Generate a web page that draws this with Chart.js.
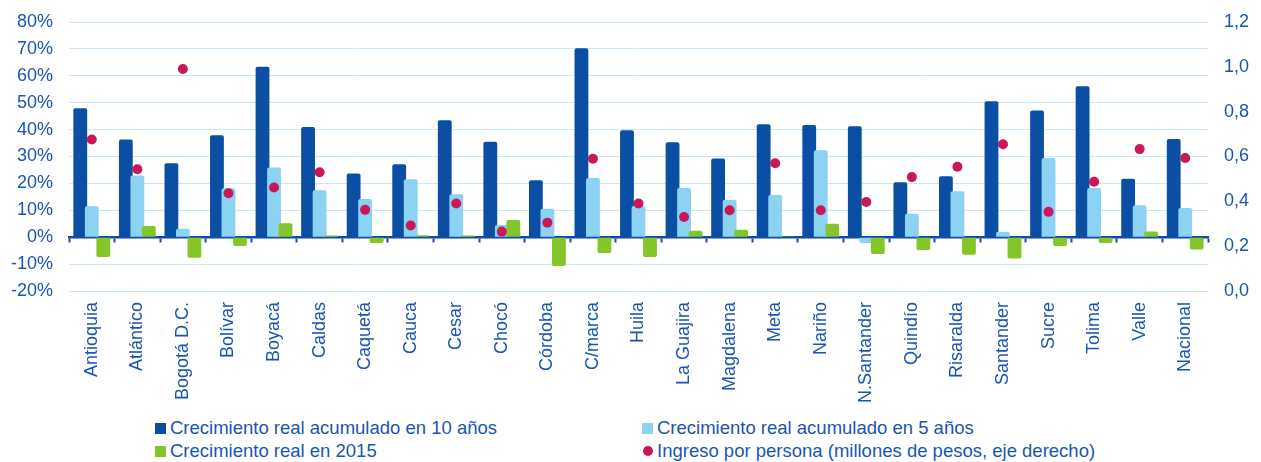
<!DOCTYPE html>
<html>
<head>
<meta charset="utf-8">
<script src="https://cdn.jsdelivr.net/npm/chart.js@4.4.1/dist/chart.umd.min.js"></script>
<style>
  body{margin:0;background:#fff;font-family:'Liberation Sans',Arial,sans-serif}
  #wrap{position:relative;width:1261px;height:462px;overflow:hidden}
  #chart{position:absolute;left:0;top:0}
  .item{position:absolute;display:flex;align-items:center;white-space:nowrap;font-size:18.5px;line-height:22px;color:#1A55B0}
  .sq{width:11px;height:11px;margin-right:4px}
  .dot{width:10px;height:10px;border-radius:50%;margin-right:4px}
</style>
</head>
<body>
<div id="wrap">
  <canvas id="chart" width="1261" height="412"></canvas>
  <div class="item" style="left:155px;top:417px"><span class="sq" style="background:#0A4FA3"></span>Crecimiento real acumulado en 10 años</div>
  <div class="item" style="left:642px;top:417px"><span class="sq" style="background:#8CD2F2"></span>Crecimiento real acumulado en 5 años</div>
  <div class="item" style="left:155px;top:440px"><span class="sq" style="background:#84C52A"></span>Crecimiento real en 2015</div>
  <div class="item" style="left:643px;top:440px"><span class="dot" style="background:#C8185A"></span>Ingreso por persona (millones de pesos, eje derecho)</div>
</div>
<script>
const departamentos = ['Antioquia','Atlántico','Bogotá D.C.','Bolívar','Boyacá','Caldas','Caquetá','Cauca','Cesar','Chocó','Córdoba','C/marca','Huila','La Guajira','Magdalena','Meta','Nariño','N.Santander','Quindío','Risaralda','Santander','Sucre','Tolima','Valle','Nacional'];
// crecimiento real, %
const crec10 = [47.9,36.3,27.5,37.9,63.4,41.0,23.7,27.1,43.5,35.5,21.2,70.2,39.8,35.3,29.3,42.0,41.7,41.2,20.4,22.7,50.5,47.1,56.1,21.7,36.5];
const crec5 = [11.5,22.9,3.1,18.2,25.9,17.5,14.2,21.5,16.0,4.5,10.6,22.0,11.6,18.3,13.9,15.7,32.3,-2.2,8.7,17.1,2.0,29.4,18.3,11.9,10.9];
const crec2015 = [-7.4,4.2,-7.6,-3.3,5.2,0.6,-2.2,0.7,0.6,6.4,-10.7,-5.9,-7.4,2.4,2.8,0.3,5.0,-6.2,-4.8,-6.5,-7.9,-3.3,-2.2,2.1,-4.6];
// ingreso por persona, millones de pesos
const ingreso = [0.676,0.543,0.99,0.436,0.462,0.53,0.362,0.292,0.39,0.265,0.305,0.59,0.39,0.33,0.36,0.57,0.36,0.397,0.508,0.554,0.655,0.353,0.487,0.633,0.593];

const AZUL = '#0A4FA3', CELESTE = '#8CD2F2', VERDE = '#84C52A', MAGENTA = '#C8185A';
const TEXTO = '#1A55B0', REJILLA = '#C6E8F7';

Chart.defaults.font.family = "'Liberation Sans', Arial, sans-serif";
Chart.defaults.color = TEXTO;

// draw datasets first-to-last so later bars sit over earlier ones and points end on top
const ordenDibujo = {
  id: 'ordenDibujo',
  beforeDatasetsDraw(chart) {
    const ctx = chart.ctx, a = chart.chartArea;
    chart.getSortedVisibleDatasetMetas().forEach(m => {
      ctx.save();
      ctx.beginPath();
      ctx.rect(a.left, a.top - 10, a.right - a.left, a.bottom - a.top + 20);
      ctx.clip();
      m.controller.draw();
      ctx.restore();
    });
    return false;
  }
};

// fixed axis boxes; tick label overflow must not push the plot area
const ajusteY = w => s => { s.width = w; s.paddingTop = 0; s.paddingBottom = 0; };

const barra = {categoryPercentage: 0.758, barPercentage: 1.2, borderRadius: 2, borderSkipped: 'start', yAxisID: 'y'};

new Chart(document.getElementById('chart'), {
  type: 'bar',
  data: {
    labels: departamentos,
    datasets: [
      Object.assign({label: 'Crecimiento real acumulado en 10 años', data: crec10, backgroundColor: AZUL}, barra),
      Object.assign({label: 'Crecimiento real acumulado en 5 años', data: crec5, backgroundColor: CELESTE}, barra),
      Object.assign({label: 'Crecimiento real en 2015', data: crec2015, backgroundColor: VERDE}, barra),
      {type: 'line', label: 'Ingreso por persona (millones de pesos, eje derecho)', data: ingreso, yAxisID: 'y1',
       showLine: false, pointRadius: 5, pointHoverRadius: 5, pointBorderWidth: 0, pointBackgroundColor: MAGENTA, backgroundColor: MAGENTA}
    ]
  },
  options: {
    responsive: false,
    animation: false,
    devicePixelRatio: 1,
    layout: {padding: {top: 22, left: 0, right: 0, bottom: 0}},
    plugins: {legend: {display: false}, tooltip: {enabled: false}},
    scales: {
      x: {
        type: 'category', position: {y: 0}, offset: true, z: 1,
        grid: {display: true, offset: true, drawOnChartArea: false, drawTicks: true, tickLength: 4, tickWidth: 2, color: AZUL},
        border: {display: true, color: AZUL, width: 2.5},
        ticks: {display: false}
      },
      x2: {
        type: 'category', position: 'bottom', offset: true,
        grid: {display: false, drawTicks: false}, border: {display: false},
        ticks: {minRotation: 90, maxRotation: 90, autoSkip: false, padding: 11, font: {size: 18}, color: TEXTO},
        afterFit: s => { s.height = 121; }
      },
      y: {
        position: 'left', min: -20, max: 80,
        grid: {color: REJILLA, lineWidth: 1, drawTicks: false},
        border: {display: false},
        ticks: {stepSize: 10, padding: 16, font: {size: 18}, color: TEXTO, callback: v => v + '%'},
        afterFit: ajusteY(69)
      },
      y1: {
        position: 'right', min: 0, max: 1.2,
        grid: {display: false, drawTicks: false},
        border: {display: false},
        ticks: {stepSize: 0.2, padding: 16, font: {size: 18}, color: TEXTO, callback: v => v.toFixed(1).replace('.', ',')},
        afterFit: ajusteY(53)
      }
    }
  },
  plugins: [ordenDibujo]
});
</script>
</body>
</html>
